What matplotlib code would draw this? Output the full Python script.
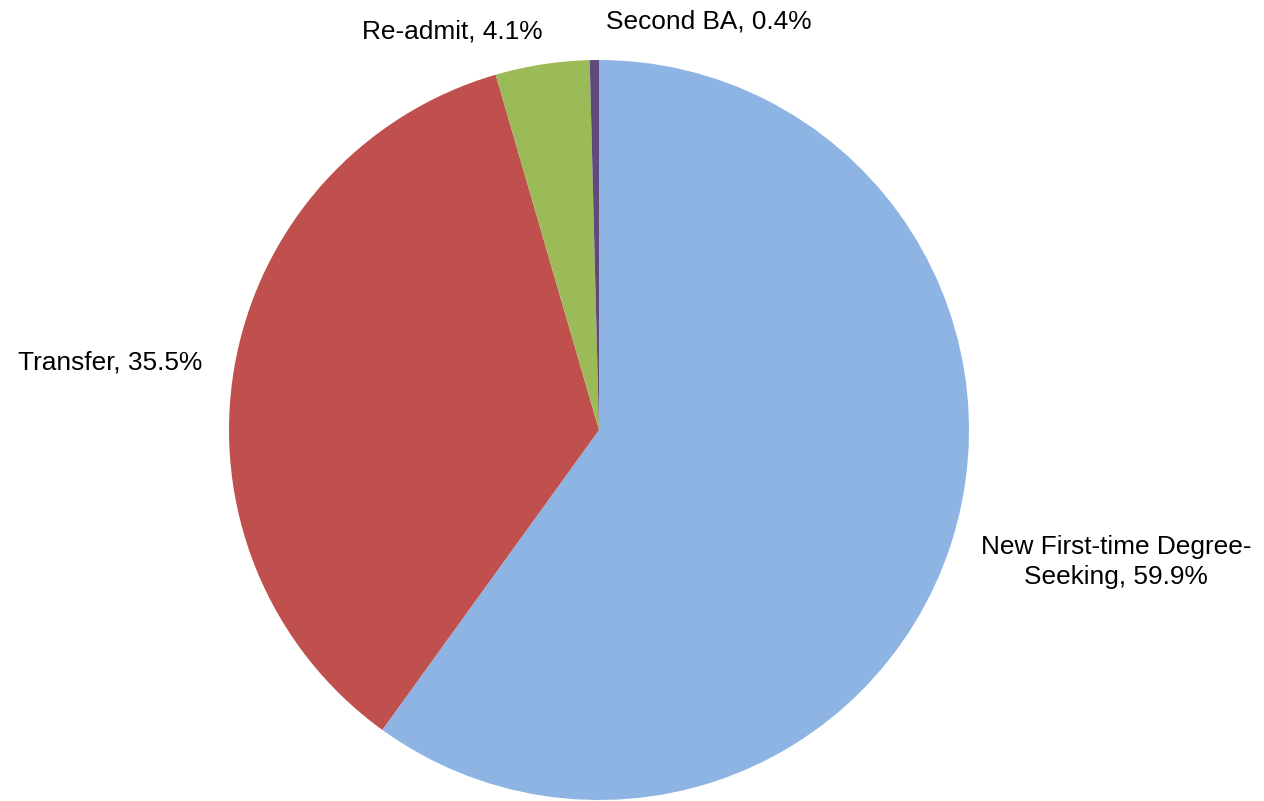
import matplotlib.pyplot as plt

plt.rcParams['font.family'] = ['Liberation Sans', 'DejaVu Sans']

categories = ["New First-time Degree-\nSeeking", "Transfer", "Re-admit", "Second BA"]
shares = [59.9, 35.5, 4.1, 0.4]
colors = ["#8EB4E3", "#C0504D", "#9BBB59", "#604A7B"]

# label placement (in pie-radius units)
label_pos = [(1.397, -0.357), (-1.322, 0.182), (-0.397, 1.076), (0.297, 1.103)]

fig = plt.figure(figsize=(12.64, 8.01), dpi=100)
ax = fig.add_axes([0, 0, 1, 1])

labels = ["%s, %.1f%%" % (c, v) for c, v in zip(categories, shares)]
wedges, texts = ax.pie(shares, labels=labels, colors=colors, startangle=90,
                       counterclock=False, radius=1.0,
                       wedgeprops=dict(linewidth=0),
                       textprops=dict(fontsize=18.9, color="black"))

for t, (x, y) in zip(texts, label_pos):
    t.set_position((x, y))
    t.set_ha("center")
    t.set_va("center")
    t.set_multialignment("center")
    t.set_linespacing(1.28)

ax.set_aspect("equal")
ax.set_xlim(-599 / 370, (1264 - 599) / 370)
ax.set_ylim(-(801 - 430) / 370, 430 / 370)
ax.axis("off")

fig.savefig("out.png", dpi=100, facecolor="white")
